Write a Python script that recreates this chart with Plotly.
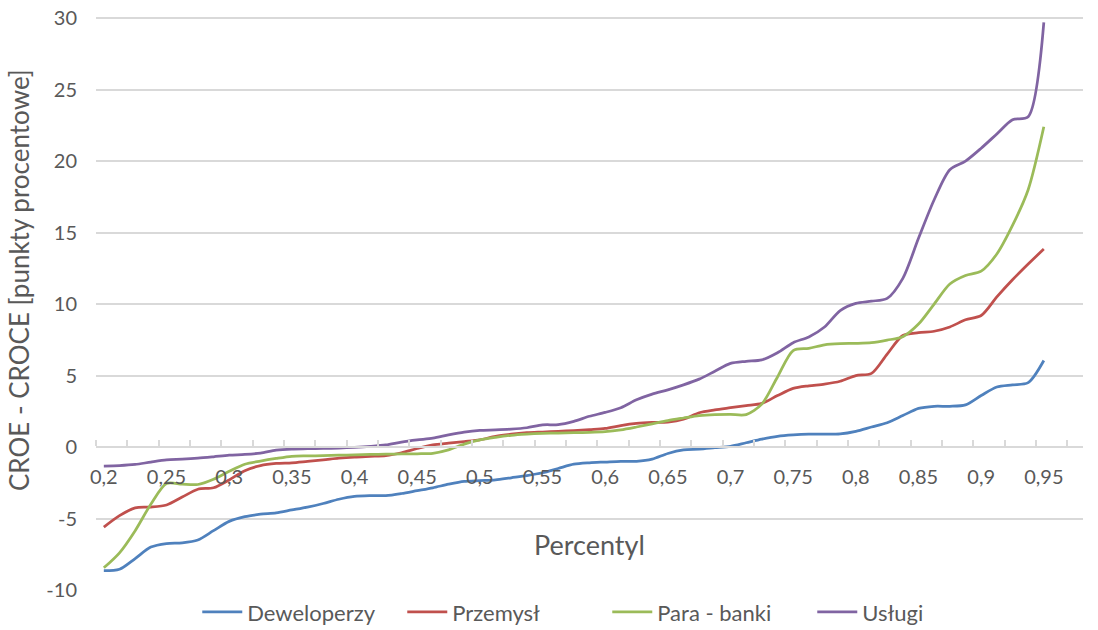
import plotly.graph_objects as go

# percentiles, step 1/80
percentyl = [round(0.2 + 0.0125 * i, 4) for i in range(61)]

deweloperzy = [
    -8.65, -8.55, -7.8, -7.0, -6.75, -6.7, -6.5, -5.85, -5.2, -4.87,
    -4.7, -4.6, -4.4, -4.2, -3.95, -3.65, -3.45, -3.4, -3.4, -3.25,
    -3.05, -2.85, -2.6, -2.4, -2.35, -2.3, -2.15, -2.0, -1.8, -1.5,
    -1.2, -1.1, -1.05, -1.0, -1.0, -0.85, -0.45, -0.2, -0.15, -0.05,
    0.05, 0.3, 0.55, 0.75, 0.85, 0.9, 0.9, 0.92, 1.1, 1.4,
    1.7, 2.2, 2.7, 2.85, 2.85, 2.95, 3.6, 4.2, 4.35, 4.5,
    6.05,
]
przemysl = [
    -5.6, -4.8, -4.25, -4.2, -4.05, -3.5, -2.95, -2.85, -2.3, -1.65,
    -1.3, -1.15, -1.1, -1.0, -0.9, -0.78, -0.7, -0.65, -0.6, -0.4,
    -0.1, 0.15, 0.27, 0.38, 0.5, 0.75, 0.9, 1.0, 1.05, 1.1,
    1.15, 1.22, 1.3, 1.5, 1.65, 1.72, 1.75, 1.95, 2.4, 2.6,
    2.75, 2.9, 3.05, 3.6, 4.1, 4.28, 4.4, 4.6, 5.0, 5.15,
    6.5, 7.8, 8.0, 8.1, 8.4, 8.9, 9.2, 10.5, 11.7, 12.8,
    13.85,
]
para_banki = [
    -8.45, -7.4, -5.85, -4.0, -2.55, -2.6, -2.62, -2.25, -1.7, -1.2,
    -0.98, -0.8, -0.65, -0.62, -0.6, -0.57, -0.55, -0.52, -0.5, -0.48,
    -0.47, -0.44, -0.2, 0.2, 0.5, 0.68, 0.82, 0.9, 0.95, 0.98,
    1.0, 1.02, 1.07, 1.2, 1.4, 1.62, 1.85, 2.03, 2.2, 2.27,
    2.28, 2.27, 3.0, 4.9, 6.75, 6.9, 7.15, 7.23, 7.25, 7.3,
    7.48, 7.72, 8.6, 10.0, 11.4, 12.0, 12.3, 13.5, 15.5, 18.0,
    22.4,
]
uslugi = [
    -1.33, -1.3, -1.22, -1.05, -0.9, -0.85, -0.78, -0.68, -0.57, -0.52,
    -0.42, -0.22, -0.14, -0.12, -0.1, -0.07, -0.02, 0.05, 0.15, 0.35,
    0.5, 0.62, 0.85, 1.05, 1.17, 1.2, 1.25, 1.35, 1.55, 1.57,
    1.8, 2.15, 2.42, 2.75, 3.3, 3.7, 4.0, 4.35, 4.75, 5.3,
    5.85, 6.0, 6.1, 6.6, 7.3, 7.7, 8.4, 9.55, 10.05, 10.2,
    10.4, 11.8, 14.6, 17.3, 19.4, 20.0, 20.9, 21.9, 22.9, 23.1,
    29.7,
]

series = [
    ("Deweloperzy", deweloperzy, "#4F81BD"),
    ("Przemysł", przemysl, "#C0504D"),
    ("Para - banki", para_banki, "#9BBB59"),
    ("Usługi", uslugi, "#8064A2"),
]

y_ticks = [-10, -5, 0, 5, 10, 15, 20, 25, 30]
y_tick_text = [str(v) for v in y_ticks]

FONT = "Lato, 'Open Sans', sans-serif"
GREY = "#595959"
GRID = "#d9d9d9"

fig = go.Figure()
for name, vals, color in series:
    fig.add_trace(go.Scatter(
        x=percentyl, y=vals, name=name, mode="lines",
        line=dict(color=color, width=2.75, shape="spline", smoothing=0.8),
    ))

fig.update_layout(
    width=1098, height=630,
    margin=dict(l=96, r=15, t=17, b=40, autoexpand=False),
    paper_bgcolor="white", plot_bgcolor="white",
    separators=", ",
    font=dict(family=FONT, size=20, color=GREY),
    showlegend=True,
    legend=dict(orientation="h", x=0.518, xanchor="center", y=-0.002, yanchor="top",
                font=dict(size=22, color=GREY), itemwidth=40,
                entrywidth=150, entrywidthmode="pixels",
                traceorder="normal"),
)

# category axis drawn at y = 0 (0.25 of the plot height for range -10..30)
fig.update_xaxes(
    range=[0.19375, 0.98125],
    anchor="free", position=0.25, automargin=False,
    showline=True, linecolor=GRID, linewidth=1.5,
    tick0=0.2, dtick=0.05, ticks="",
    ticklabelstandoff=12,
    tickfont=dict(size=20, color=GREY),
    showgrid=False, zeroline=False,
    minor=dict(tick0=0.19375, dtick=0.025, ticks="inside", ticklen=6,
               tickcolor=GRID, tickwidth=1.5, showgrid=False),
)
# tiny headroom so the 30 gridline is still drawn
fig.update_yaxes(
    range=[-10, 30.08], automargin=False,
    tickmode="array", tickvals=y_ticks, ticktext=y_tick_text,
    showgrid=True, gridcolor=GRID, gridwidth=1.5,
    zeroline=False, showline=False, ticks="",
    ticklabelstandoff=18, ticklabeloverflow="allow",
    tickfont=dict(size=20, color=GREY),
)

fig.add_annotation(text="Percentyl", xref="paper", yref="paper",
                   x=0.5, y=0.079, xanchor="center", yanchor="middle",
                   showarrow=False, font=dict(size=27, color=GREY))
fig.add_annotation(text="CROE - CROCE [punkty procentowe]", xref="paper", yref="paper",
                   x=-0.078, y=0.541, xanchor="center", yanchor="middle",
                   textangle=-90, showarrow=False, font=dict(size=26, color=GREY))

# drop the default page margin so the figure sits at the window corner
fig.write_html("out.html", config={"displayModeBar": False},
               post_script="document.body.style.margin='0px';")
